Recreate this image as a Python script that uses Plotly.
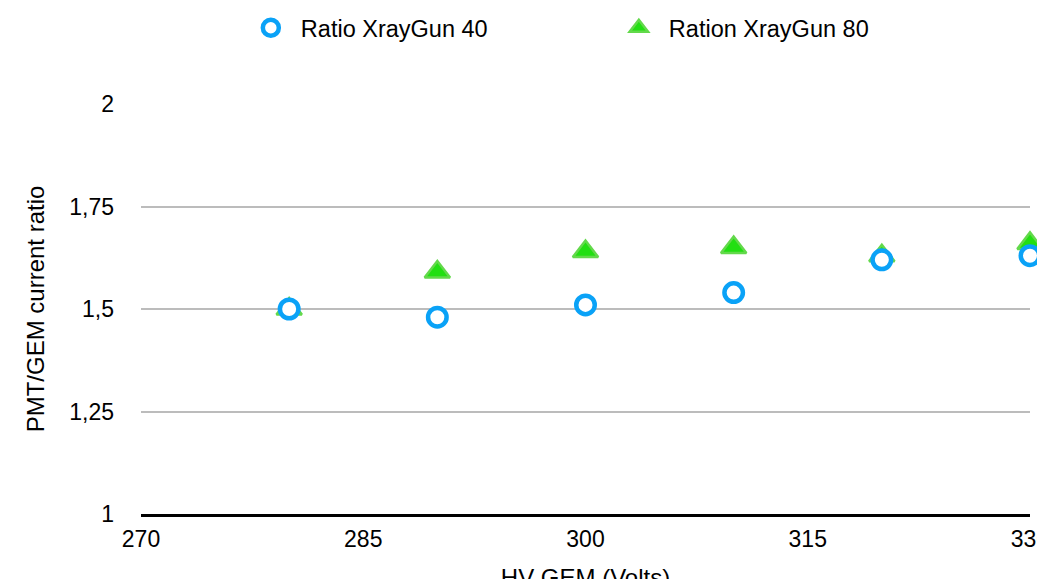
import plotly.graph_objects as go

hv_volts = [280, 290, 300, 310, 320, 330]
ratio_gun40 = [1.50, 1.48, 1.51, 1.54, 1.62, 1.63]
ratio_gun80 = [1.50, 1.59, 1.64, 1.65, 1.63, 1.66]

x_ticks = [270, 285, 300, 315, 330]
y_ticks = [1, 1.25, 1.5, 1.75, 2]
y_tick_text = ["1", "1,25", "1,5", "1,75", "2"]

FONT = "Liberation Sans, Arial, Helvetica, sans-serif"

fig = go.Figure()

fig.add_trace(go.Scatter(
    x=hv_volts, y=ratio_gun80, mode="markers", name="Ration XrayGun 80",
    legendrank=2, cliponaxis=False,
    marker=dict(symbol="triangle-up", size=22, color="#22df12",
                line=dict(color="#63d94b", width=2.5)),
))
fig.add_trace(go.Scatter(
    x=hv_volts, y=ratio_gun40, mode="markers", name="Ratio XrayGun 40",
    legendrank=1, cliponaxis=False,
    marker=dict(symbol="circle", size=18.5, color="white",
                line=dict(color="#0aa2f7", width=4.5)),
))

fig.update_layout(
    width=1045, height=600,
    margin=dict(l=133, r=23, t=96, b=94, autoexpand=False),
    paper_bgcolor="white", plot_bgcolor="white",
    font=dict(family=FONT, size=23, color="#000000"),
    showlegend=True,
    legend=dict(orientation="h", x=0.1123, xanchor="left", y=1.239, yanchor="top",
                itemwidth=50, entrywidth=303, entrywidthmode="pixels",
                font=dict(size=23.5), bgcolor="rgba(0,0,0,0)"),
    xaxis=dict(range=[270, 330], tickvals=x_ticks, showgrid=False, zeroline=False,
               showline=True, linecolor="#000000", linewidth=2.5, ticks="",
               ticklabelstandoff=3, ticklabeloverflow="allow", automargin=False,
               title=dict(text="HV GEM (Volts)", font=dict(size=24), standoff=18)),
    yaxis=dict(range=[1, 2], tickvals=y_ticks, ticktext=y_tick_text,
               showgrid=True, gridcolor="#bcbcbc", gridwidth=2, zeroline=False,
               showline=False, ticks="", ticklabelstandoff=26, automargin=False,
               title=dict(text="PMT/GEM current ratio", font=dict(size=24), standoff=17)),
)

fig.write_html("out.html")
